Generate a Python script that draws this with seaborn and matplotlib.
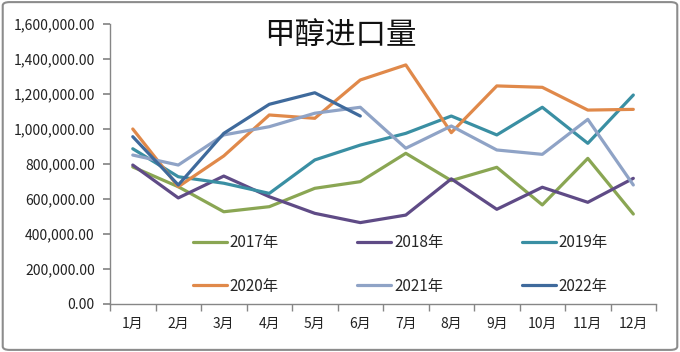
import pandas as pd
import numpy as np
import matplotlib
matplotlib.use("Agg")
import matplotlib.pyplot as plt
import seaborn as sns
from matplotlib.ticker import FuncFormatter
from matplotlib.patches import FancyBboxPatch

sns.set_theme(style="white")
plt.rcParams["font.family"] = ["Noto Sans CJK SC", "DejaVu Sans"]

# data
months = ["1月", "2月", "3月", "4月", "5月", "6月", "7月", "8月", "9月", "10月", "11月", "12月"]
y2017 = [783000, 670000, 527000, 556000, 661000, 699000, 861000, 705000, 781000, 566000, 832000, 514000]
y2018 = [794000, 606000, 731000, 613000, 518000, 465000, 508000, 715000, 541000, 667000, 581000, 718000]
y2019 = [887000, 727000, 690000, 632000, 823000, 908000, 975000, 1074000, 966000, 1124000, 918000, 1194000]
y2020 = [1000000, 670000, 846000, 1080000, 1061000, 1280000, 1366000, 979000, 1246000, 1238000, 1108000, 1112000]
y2021 = [851000, 794000, 966000, 1013000, 1090000, 1124000, 890000, 1017000, 880000, 855000, 1055000, 680000]
y2022 = [956000, 680000, 975000, 1141000, 1207000, 1074000]

years = ["2017年", "2018年", "2019年", "2020年", "2021年", "2022年"]
colors = ["#8aa653", "#5f4b86", "#3a8fa3", "#e0894a", "#8fa3c6", "#3f6a9c"]

rows = []
for yr, vals in zip(years, [y2017, y2018, y2019, y2020, y2021, y2022]):
    for i, v in enumerate(vals):
        rows.append({"year": yr, "pos": i, "value": v})
df = pd.DataFrame(rows)

fig = plt.figure(figsize=(6.8, 3.52), dpi=100)
ax = fig.add_axes([0.1618, 0.1364, 0.803, 0.7955])

sns.lineplot(data=df, x="pos", y="value", hue="year", hue_order=years,
             palette=dict(zip(years, colors)), linewidth=2.3, ax=ax,
             legend=True)

ax.set_xlim(-0.5, 11.5)
ax.set_ylim(0, 1600000)
ax.set_yticks(np.arange(0, 1600001, 200000))
ax.yaxis.set_major_formatter(FuncFormatter(lambda v, p: f"{v:,.2f}"))
ax.set_xticks(range(12))
ax.set_xticklabels(months)
ax.set_xticks(np.arange(-0.5, 12, 1), minor=True)
ax.tick_params(axis="x", which="major", length=0, pad=9, labelsize=10, colors="#222222")
ax.tick_params(axis="x", which="minor", length=5, color="#868686", bottom=True)
ax.tick_params(axis="y", length=5, color="#868686", left=True, labelsize=10, pad=6)
for lbl in ax.get_yticklabels():
    lbl.set_color("#222222")
ax.set_xlabel("")
ax.set_ylabel("")
for s in ["top", "right"]:
    ax.spines[s].set_visible(False)
for s in ["left", "bottom"]:
    ax.spines[s].set_color("#868686")
    ax.spines[s].set_linewidth(1)

fig.text(0.5, 0.90, "甲醇进口量", fontsize=22, ha="center", va="center", color="#111111")

# legend fills row by row in the reference: reorder for column-wise filling
handles, labels = ax.get_legend_handles_labels()
order = [0, 3, 1, 4, 2, 5]
ax.legend([handles[i] for i in order], [labels[i] for i in order], ncol=3,
          frameon=False, loc="upper left",
          bbox_to_anchor=(193 / 680, 1 - 234 / 352), bbox_transform=fig.transFigure,
          borderpad=0, borderaxespad=0, handlelength=2.2, handletextpad=0.2,
          columnspacing=5.15, labelspacing=1.75, fontsize=11)

fig.patches.append(FancyBboxPatch((0.004, 0.006), 0.992, 0.988, boxstyle="round,pad=0,rounding_size=0.01",
                                  transform=fig.transFigure, facecolor="none",
                                  edgecolor="#8c8c8c", linewidth=1.5))

plt.savefig("out.png", dpi=100)
